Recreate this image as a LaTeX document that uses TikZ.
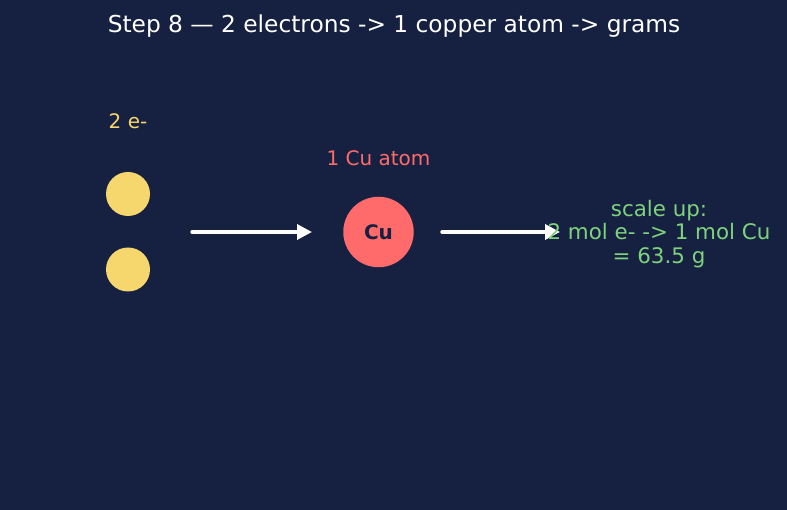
\documentclass[tikz,border=0pt]{standalone}
\usepackage{fontspec}
\setmainfont{DejaVu Sans}
\usetikzlibrary{arrows.meta}
\definecolor{bg}{RGB}{22,32,64}
\definecolor{elec}{RGB}{245,215,110}
\definecolor{cured}{RGB}{255,107,107}
\definecolor{sgreen}{RGB}{126,210,126}
\begin{document}
\begin{tikzpicture}[x=1pt,y=-1pt,
  lbl/.style={inner sep=0pt,anchor=base,font=\fontsize{20}{24}\selectfont},
  note/.style={inner sep=0pt,anchor=base,text=sgreen,font=\fontsize{21.4}{24}\selectfont},
  electron/.style={circle,fill=elec,minimum size=44pt,inner sep=0pt},
  atom/.style={circle,fill=cured,minimum size=70.5pt,inner sep=0pt,text=bg,font=\fontsize{20}{24}\selectfont\bfseries},
  flow/.style={draw=white,line width=3.5pt,line cap=round,-{Triangle[length=15pt,width=15pt]}}]
\fill[bg] (0,0) rectangle (787,510);
\useasboundingbox (0,0) rectangle (787,510);
\node[lbl,text=white,font=\fontsize{23.3}{28}\selectfont] (title) at (394,33) {Step 8 — 2 electrons -> 1 copper atom -> grams};
\node[lbl,text=elec] (elbl) at (128,128.5) {2 e-};
\node[electron] (e1) at (128,194) {};
\node[electron] (e2) at (128,269.5) {};
\node[lbl,text=cured] (culbl) at (378.5,165.5) {1 Cu atom};
\node[atom] (cu) at (378.5,232) {Cu};
\coordinate (a1s) at (192,232);
\coordinate (a1e) at (312,232);
\coordinate (a2s) at (442,232);
\coordinate (a2e) at (560,232);
\draw[flow] (a1s) -- (a1e);
\draw[flow] (a2s) -- (a2e);
\node[note] (s1) at (659,216.5) {scale up:};
\node[note] (s2) at (659,240) {2 mol e- -> 1 mol Cu};
\node[note] (s3) at (659,263.5) {= 63.5 g};
\end{tikzpicture}
\end{document}
